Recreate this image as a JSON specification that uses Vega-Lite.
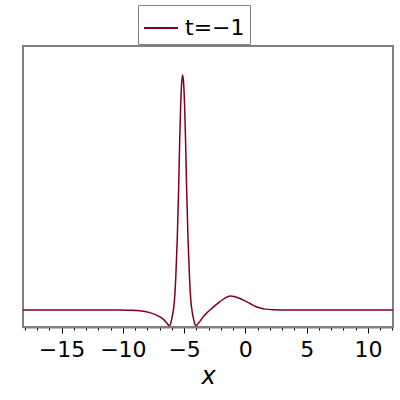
{
  "$schema": "https://vega.github.io/schema/vega-lite/v6.json",
  "autosize": {"type": "none"},
  "width": 370,
  "height": 281,
  "padding": {"left": 23, "top": 46, "right": 7, "bottom": 73},
  "background": "white",
  "config": {
    "view": {"stroke": "#808080", "strokeWidth": 2},
    "font": "DejaVu Sans"
  },
  "data": {
    "values": [
      {"x": -18.15, "v": 0, "s": "t=−1"},
      {"x": -14, "v": 0, "s": "t=−1"},
      {"x": -10.5, "v": 0, "s": "t=−1"},
      {"x": -9.5, "v": -0.001, "s": "t=−1"},
      {"x": -8.61, "v": -0.003, "s": "t=−1"},
      {"x": -7.79, "v": -0.011, "s": "t=−1"},
      {"x": -6.97, "v": -0.029, "s": "t=−1"},
      {"x": -6.57, "v": -0.045, "s": "t=−1"},
      {"x": -6.4, "v": -0.056, "s": "t=−1"},
      {"x": -6.3, "v": -0.063, "s": "t=−1"},
      {"x": -6.21, "v": -0.066, "s": "t=−1"},
      {"x": -6.12, "v": -0.06, "s": "t=−1"},
      {"x": -6.02, "v": -0.04, "s": "t=−1"},
      {"x": -5.9, "v": -0.008, "s": "t=−1"},
      {"x": -5.79, "v": 0.04, "s": "t=−1"},
      {"x": -5.68, "v": 0.14, "s": "t=−1"},
      {"x": -5.56, "v": 0.3, "s": "t=−1"},
      {"x": -5.45, "v": 0.51, "s": "t=−1"},
      {"x": -5.36, "v": 0.72, "s": "t=−1"},
      {"x": -5.28, "v": 0.87, "s": "t=−1"},
      {"x": -5.2, "v": 0.965, "s": "t=−1"},
      {"x": -5.12, "v": 1.0, "s": "t=−1"},
      {"x": -5.04, "v": 0.965, "s": "t=−1"},
      {"x": -4.96, "v": 0.87, "s": "t=−1"},
      {"x": -4.88, "v": 0.72, "s": "t=−1"},
      {"x": -4.79, "v": 0.51, "s": "t=−1"},
      {"x": -4.68, "v": 0.3, "s": "t=−1"},
      {"x": -4.56, "v": 0.14, "s": "t=−1"},
      {"x": -4.45, "v": 0.04, "s": "t=−1"},
      {"x": -4.34, "v": -0.008, "s": "t=−1"},
      {"x": -4.22, "v": -0.04, "s": "t=−1"},
      {"x": -4.12, "v": -0.06, "s": "t=−1"},
      {"x": -4.03, "v": -0.066, "s": "t=−1"},
      {"x": -3.94, "v": -0.063, "s": "t=−1"},
      {"x": -3.8, "v": -0.054, "s": "t=−1"},
      {"x": -3.6, "v": -0.04, "s": "t=−1"},
      {"x": -3.4, "v": -0.026, "s": "t=−1"},
      {"x": -3.16, "v": -0.013, "s": "t=−1"},
      {"x": -2.89, "v": 0.0, "s": "t=−1"},
      {"x": -2.48, "v": 0.019, "s": "t=−1"},
      {"x": -2.07, "v": 0.036, "s": "t=−1"},
      {"x": -1.66, "v": 0.051, "s": "t=−1"},
      {"x": -1.25, "v": 0.06, "s": "t=−1"},
      {"x": -0.84, "v": 0.057, "s": "t=−1"},
      {"x": -0.43, "v": 0.049, "s": "t=−1"},
      {"x": 0.0, "v": 0.038, "s": "t=−1"},
      {"x": 0.38, "v": 0.028, "s": "t=−1"},
      {"x": 0.79, "v": 0.016, "s": "t=−1"},
      {"x": 1.2, "v": 0.009, "s": "t=−1"},
      {"x": 1.61, "v": 0.004, "s": "t=−1"},
      {"x": 2.43, "v": 0.001, "s": "t=−1"},
      {"x": 3.25, "v": 0, "s": "t=−1"},
      {"x": 8, "v": 0, "s": "t=−1"},
      {"x": 12.05, "v": 0, "s": "t=−1"}
    ]
  },
  "mark": {"type": "line", "interpolate": "monotone", "strokeWidth": 1.5},
  "encoding": {
    "x": {
      "field": "x",
      "type": "quantitative",
      "scale": {"domain": [-18.15, 12.05], "nice": false, "zero": false},
      "axis": {
        "values": [-18,-17,-16,-15,-14,-13,-12,-11,-10,-9,-8,-7,-6,-5,-4,-3,-2,-1,0,1,2,3,4,5,6,7,8,9,10,11,12],
        "labelExpr": "datum.value % 5 == 0 ? datum.label : ''",
        "tickSize": {"condition": {"test": "datum.value % 5 == 0", "value": 6}, "value": 3},
        "tickColor": "#000000",
        "tickWidth": 1,
        "domainColor": "#808080",
        "domainWidth": 2,
        "grid": false,
        "labelFontSize": 22,
        "labelColor": "#000000",
        "labelPadding": 6,
        "labelFlush": false,
        "labelOverlap": false,
        "title": "x",
        "titleFontSize": 24,
        "titleFontStyle": "italic",
        "titleFontWeight": "normal",
        "titleColor": "#000000",
        "titlePadding": 4
      }
    },
    "y": {
      "field": "v",
      "type": "quantitative",
      "scale": {"domain": [-0.072, 1.123], "nice": false, "zero": false},
      "axis": null
    },
    "color": {
      "field": "s",
      "type": "nominal",
      "scale": {"range": ["#800020"]},
      "legend": {
        "title": null,
        "orient": "none",
        "legendX": 115,
        "legendY": -41,
        "padding": 5,
        "strokeColor": "#808080",
        "symbolType": "stroke",
        "symbolSize": 1156,
        "symbolStrokeWidth": 2,
        "labelFontSize": 22,
        "labelColor": "#000000",
        "labelOffset": 6
      }
    }
  }
}
